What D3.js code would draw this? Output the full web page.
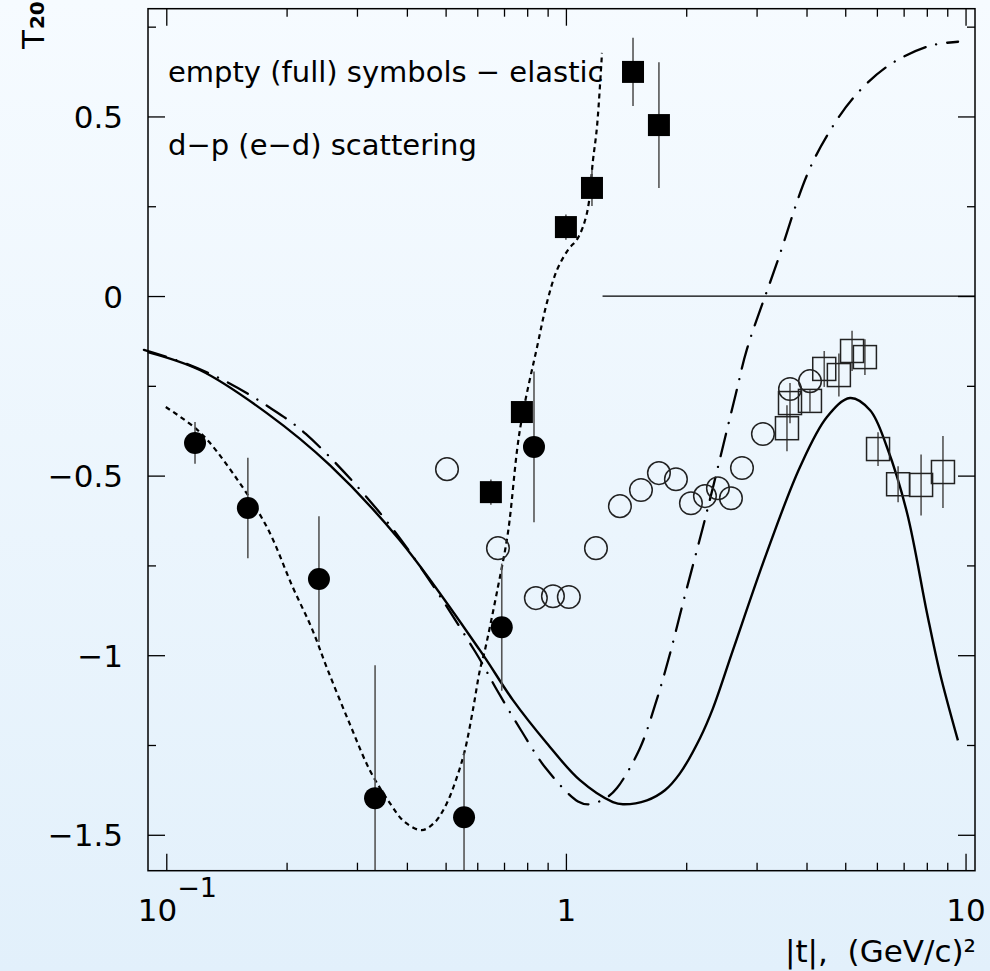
<!DOCTYPE html>
<html>
<head>
<meta charset="utf-8">
<script src="https://cdn.jsdelivr.net/npm/d3@7"></script>
<style>
  html, body { margin: 0; padding: 0; }
  body { width: 990px; height: 971px; overflow: hidden; }
  svg { display: block; }
  svg text { font-family: "DejaVu Sans", sans-serif; fill: #000; }
</style>
</head>
<body>
<div id="chart"></div>
<script>
// --- data ---
// d-p elastic (full circles): [|t|, T20, error]
const fullCircles = [
  [0.118, -0.409, 0.058],
  [0.160, -0.590, 0.140],
  [0.241, -0.788, 0.175],
  [0.333, -1.398, 0.370],
  [0.556, -1.451, 0.180],
  [0.691, -0.922, 0.177],
  [0.832, -0.420, 0.210]
]
// e-d elastic (full squares): [|t|, T20, error]
const fullSquares = [
  [0.649, -0.546, 0.035],
  [0.776, -0.323, 0.030],
  [1.000, 0.192, 0.035],
  [1.162, 0.301, 0.050],
  [1.472, 0.624, 0.095],
  [1.709, 0.476, 0.175]
]
// empty circles: [|t|, T20]
const openCircles = [
  [0.504, -0.482], [0.676, -0.702], [0.841, -0.841], [0.928, -0.836],
  [1.017, -0.838], [1.189, -0.702], [1.365, -0.585], [1.541, -0.540],
  [1.709, -0.493], [1.885, -0.510], [2.055, -0.577], [2.228, -0.557],
  [2.401, -0.535], [2.588, -0.563], [2.758, -0.479], [3.112, -0.384],
  [3.637, -0.259], [4.081, -0.237]
]
// empty squares: [|t|, T20, error]
const openSquares = [
  [3.574, -0.368, 0.064],
  [3.637, -0.298, 0.056],
  [4.080, -0.292, 0.030],
  [4.430, -0.203, 0.050],
  [4.820, -0.220, 0.060],
  [5.200, -0.153, 0.056],
  [5.600, -0.170, 0.050],
  [6.040, -0.426, 0.047],
  [6.780, -0.524, 0.050],
  [7.740, -0.526, 0.085],
  [8.780, -0.490, 0.100]
]

// theory curves: [|t|, T20]
const solidCurve = [
  [0.0899, -0.156], [0.1213, -0.206], [0.1785, -0.326], [0.2566, -0.471],
  [0.384, -0.680], [0.609, -0.986], [0.737, -1.125], [0.896, -1.245],
  [1.084, -1.348], [1.311, -1.409], [1.389, -1.415], [1.595, -1.404],
  [1.769, -1.376], [1.929, -1.329], [2.165, -1.231], [2.333, -1.148],
  [2.618, -0.986], [3.185, -0.713], [3.853, -0.476], [4.50, -0.337],
  [5.14, -0.284], [5.77, -0.318], [6.36, -0.421], [7.14, -0.604],
  [8.01, -0.883], [8.63, -1.050], [9.57, -1.237]
]
const dashDotCurve = [
  [0.0879, -0.150], [0.1125, -0.189], [0.1433, -0.242], [0.1806, -0.309],
  [0.2234, -0.384], [0.3627, -0.638], [0.592, -0.989], [0.672, -1.097],
  [0.772, -1.209], [0.891, -1.315], [1.072, -1.407], [1.148, -1.415],
  [1.266, -1.396], [1.342, -1.370], [1.532, -1.259], [1.671, -1.139],
  [1.800, -1.017], [1.986, -0.833], [2.203, -0.643], [2.347, -0.521],
  [2.50, -0.396], [2.665, -0.270], [2.838, -0.148], [3.373, 0.092],
  [4.012, 0.337], [4.528, 0.451], [5.26, 0.554], [6.40, 0.641],
  [8.10, 0.696], [9.58, 0.708]
]
const dottedCurve = [
  [0.0997, -0.309], [0.1213, -0.379], [0.1467, -0.493], [0.1785, -0.643],
  [0.2073, -0.811], [0.2312, -0.925], [0.2537, -1.042], [0.288, -1.192],
  [0.323, -1.320], [0.3627, -1.412], [0.3955, -1.465], [0.436, -1.487],
  [0.470, -1.465], [0.5036, -1.412], [0.5334, -1.340], [0.5587, -1.265],
  [0.585, -1.153], [0.609, -1.042], [0.627, -0.986], [0.6757, -0.811],
  [0.7158, -0.660], [0.767, -0.373], [0.851, -0.131], [0.896, -0.019],
  [0.9495, 0.072], [1.0116, 0.128], [1.072, 0.162], [1.129, 0.231],
  [1.169, 0.379], [1.196, 0.471], [1.231, 0.677]
]
const zeroLine = [[1.235, 0], [10.56, 0]]

// axes
const xDomain = [0.09, 10.56]
const yDomain = [-1.6, 0.8]
const xMajor = [0.1, 1, 10]
const xMinor = [0.2, 0.3, 0.4, 0.5, 0.6, 0.7, 0.8, 0.9, 2, 3, 4, 5, 6, 7, 8, 9]
const yMajor = [-1.5, -1, -0.5, 0, 0.5]
const yMinor = [-1.25, -0.75, -0.25, 0.25, 0.75]

// --- layout ---
const W = 990, H = 971
const pLeft = 148, pRight = 975, pTop = 8.7, pBottom = 870.7

const svg = d3.select("#chart").append("svg")
  .attr("width", W)
  .attr("height", H)

// fond dégradé
const defs = svg.append("defs")
const grad = defs.append("linearGradient")
  .attr("id", "bg").attr("x1", 0).attr("y1", 0).attr("x2", 0).attr("y2", 1)
grad.append("stop").attr("offset", "0%").attr("stop-color", "#f6fbff")
grad.append("stop").attr("offset", "100%").attr("stop-color", "#e2f0fb")
svg.append("rect").attr("width", W).attr("height", H).attr("fill", "url(#bg)")

defs.append("clipPath").attr("id", "plotclip")
  .append("rect").attr("x", pLeft).attr("y", pTop)
  .attr("width", pRight - pLeft).attr("height", pBottom - pTop)

const x = d3.scaleLog().domain(xDomain).range([pLeft, pRight])
const y = d3.scaleLinear().domain(yDomain).range([pBottom, pTop])

// ticks inside the frame on all four sides
function ticks(axis, values, size, tx, ty) {
  svg.append("g")
    .attr("transform", `translate(${tx},${ty})`)
    .call(axis.tickValues(values).tickSize(-size).tickFormat(""))
    .call(g => g.select(".domain").remove())
    .selectAll("line").attr("stroke", "#000").attr("stroke-width", 1.3)
}
ticks(d3.axisBottom(x), xMajor, 17, 0, pBottom)
ticks(d3.axisBottom(x), xMinor, 8, 0, pBottom)
ticks(d3.axisTop(x), xMajor, 17, 0, pTop)
ticks(d3.axisTop(x), xMinor, 8, 0, pTop)
ticks(d3.axisLeft(y), yMajor, 17, pLeft, 0)
ticks(d3.axisLeft(y), yMinor, 8, pLeft, 0)
ticks(d3.axisRight(y), yMajor, 17, pRight, 0)
ticks(d3.axisRight(y), yMinor, 8, pRight, 0)

// tick labels
const yLabels = svg.append("g")
  .attr("transform", `translate(${pLeft},0)`)
  .call(d3.axisLeft(y).tickValues(yMajor).tickSize(0).tickPadding(25)
    .tickFormat(d3.format("~g")))
yLabels.select(".domain").remove()
yLabels.attr("font-size", 31).attr("font-family", null)
yLabels.selectAll("text").attr("dy", "0.36em")

const xLabels = svg.append("g")
  .attr("transform", `translate(0,${pBottom})`)
  .call(d3.axisBottom(x).tickValues(xMajor).tickSize(0).tickPadding(28)
    .tickFormat(d => d === 0.1 ? "" : d3.format("~g")(d)))
xLabels.select(".domain").remove()
xLabels.attr("font-size", 31).attr("font-family", null)
xLabels.selectAll("text").filter(d => d === 0.1).each(function () {
  const t = d3.select(this).attr("text-anchor", "start").attr("x", -29)
  t.append("tspan").text("10")
  t.append("tspan").text("\u22121").attr("font-size", 27).attr("dy", -24)
})

// axis titles
svg.append("text")
  .attr("x", pRight + 1).attr("y", 962)
  .attr("text-anchor", "end")
  .attr("font-size", 31)
  .style("white-space", "pre")
  .text("|t|,  (GeV/c)\u00b2")

const yt = svg.append("text")
  .attr("transform", "translate(44,49) rotate(-90)")
  .attr("font-size", 31)
yt.append("tspan").text("T")
yt.append("tspan").text("20").attr("font-size", 20).attr("font-weight", "bold").attr("dx", 1)

// annotations
svg.append("text").attr("x", 168).attr("y", 82).attr("font-size", 29)
  .text("empty (full) symbols \u2212 elastic")
svg.append("text").attr("x", 168).attr("y", 155).attr("font-size", 29)
  .text("d\u2212p (e\u2212d) scattering")

// theory curves
const line = d3.line()
  .x(d => x(d[0]))
  .y(d => y(d[1]))
  .curve(d3.curveCatmullRom.alpha(0.5))

svg.append("path").datum(zeroLine)
  .attr("d", d3.line().x(d => x(d[0])).y(d => y(d[1])))
  .attr("fill", "none").attr("stroke", "#000").attr("stroke-width", 1.2)

svg.append("path").datum(solidCurve)
  .attr("d", line)
  .attr("fill", "none").attr("stroke", "#000").attr("stroke-width", 2.4)

svg.append("path").datum(dashDotCurve)
  .attr("d", line)
  .attr("fill", "none").attr("stroke", "#000").attr("stroke-width", 2.3)
  .attr("stroke-linecap", "round")
  .attr("stroke-dasharray", "23,11,0.1,11")

svg.append("path").datum(dottedCurve)
  .attr("d", line)
  .attr("fill", "none").attr("stroke", "#000").attr("stroke-width", 2.2)
  .attr("stroke-dasharray", "5,4")

// error bars
const errs = svg.append("g").attr("clip-path", "url(#plotclip)")
errs.selectAll("line")
  .data(fullCircles.concat(fullSquares, openSquares))
  .enter()
  .append("line")
  .attr("x1", d => x(d[0])).attr("x2", d => x(d[0]))
  .attr("y1", d => y(d[1] + d[2])).attr("y2", d => y(d[1] - d[2]))
  .attr("stroke", "#555").attr("stroke-width", 1.6)

// symbols
const sq = 23
svg.append("g").selectAll("rect")
  .data(openSquares)
  .enter()
  .append("rect")
  .attr("x", d => x(d[0]) - sq / 2).attr("y", d => y(d[1]) - sq / 2)
  .attr("width", sq).attr("height", sq)
  .attr("fill", "none").attr("stroke", "#222").attr("stroke-width", 1.5)

svg.append("g").selectAll("circle")
  .data(openCircles)
  .enter()
  .append("circle")
  .attr("cx", d => x(d[0])).attr("cy", d => y(d[1]))
  .attr("r", 11.3)
  .attr("fill", "none").attr("stroke", "#222").attr("stroke-width", 1.5)

svg.append("g").selectAll("rect")
  .data(fullSquares)
  .enter()
  .append("rect")
  .attr("x", d => x(d[0]) - 11).attr("y", d => y(d[1]) - 11)
  .attr("width", 22).attr("height", 22)
  .attr("fill", "#000")

svg.append("g").selectAll("circle")
  .data(fullCircles)
  .enter()
  .append("circle")
  .attr("cx", d => x(d[0])).attr("cy", d => y(d[1]))
  .attr("r", 11)
  .attr("fill", "#000")

// frame
svg.append("rect")
  .attr("x", pLeft).attr("y", pTop)
  .attr("width", pRight - pLeft).attr("height", pBottom - pTop)
  .attr("fill", "none").attr("stroke", "#000").attr("stroke-width", 1.5)
</script>
</body>
</html>
